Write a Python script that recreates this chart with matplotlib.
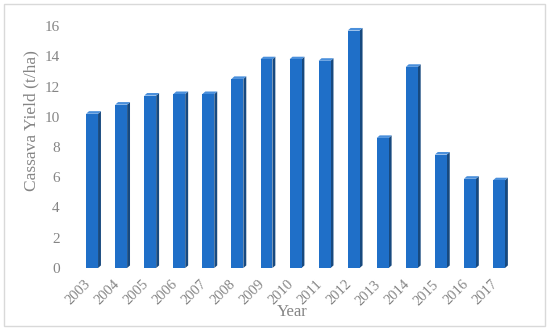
import matplotlib

matplotlib.use("Agg")
from matplotlib import pyplot as plt  # noqa: E402
from matplotlib import transforms  # noqa: E402
from matplotlib.patches import Polygon, Rectangle  # noqa: E402

# data
years = ["2003", "2004", "2005", "2006", "2007", "2008", "2009", "2010",
         "2011", "2012", "2013", "2014", "2015", "2016", "2017"]
yield_t_ha = [10.2, 10.8, 11.4, 11.5, 11.5, 12.5, 13.8, 13.8,
              13.7, 15.7, 8.6, 13.3, 7.5, 5.9, 5.8]
y_ticks = [0, 2, 4, 6, 8, 10, 12, 14, 16]

front_col = "#1F6FC8"
side_col = "#17497F"
top_col = "#4A8FDB"
text_col = "#858585"

plt.rcParams["font.family"] = ["Liberation Serif", "DejaVu Serif"]

fig = plt.figure(figsize=(5.5, 3.32), dpi=100)
ax = fig.add_axes([79 / 550, 1 - 268 / 332, 436 / 550, 242 / 332])

width = 0.41
dx = 0.10
dy = 0.17
xs = list(range(len(years)))

for x, v in zip(xs, yield_t_ha):
    left = x - (width + dx) / 2
    right = left + width
    # side face
    ax.add_patch(Polygon([(right, 0), (right + dx, dy), (right + dx, v + dy), (right, v)],
                         closed=True, facecolor=side_col, edgecolor="none"))
    # top face
    ax.add_patch(Polygon([(left, v), (left + dx, v + dy), (right + dx, v + dy), (right, v)],
                         closed=True, facecolor=top_col, edgecolor="none"))
ax.bar([x - dx / 2 for x in xs], yield_t_ha, width=width, color=front_col, zorder=2)

ax.set_xlim(-0.5, len(years) - 0.5)
ax.set_ylim(0, 16)
ax.set_yticks(y_ticks)
ax.set_yticklabels([str(t) for t in y_ticks], color=text_col, fontsize=11)
ax.set_xticks(xs)
ax.set_xticklabels(years, rotation=45, ha="right", va="top", rotation_mode="anchor",
                   color=text_col, fontsize=10.5)
ax.tick_params(length=0)
ax.tick_params(axis="y", pad=14)
ax.tick_params(axis="x", pad=2)
shift = transforms.ScaledTranslation(-0.10, -0.07, fig.dpi_scale_trans)
for lab in ax.get_xticklabels():
    lab.set_transform(lab.get_transform() + shift)
for s in ax.spines.values():
    s.set_visible(False)

fig.text(31 / 550, 1 - 121 / 332, "Cassava Yield (t/ha)", rotation=90,
         ha="center", va="center", color=text_col, fontsize=12.5)
fig.text(292 / 550, 1 - 312 / 332, "Year", ha="center", va="center",
         color=text_col, fontsize=12)

fig.patches.append(Rectangle((4 / 550, 1 - 326 / 332), 541 / 550, 322 / 332,
                             transform=fig.transFigure, fill=False,
                             edgecolor="#D9D9D9", linewidth=1))

plt.savefig("out.png", format="png")
